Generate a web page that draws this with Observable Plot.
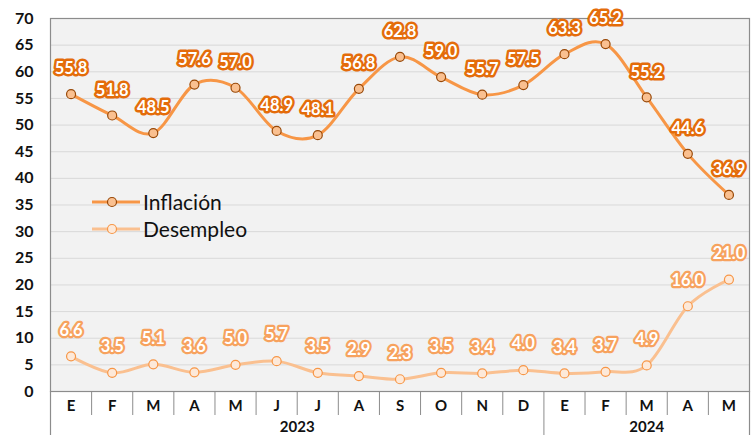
<!DOCTYPE html>
<html>
<head>
<meta charset="utf-8">
<script src="https://cdn.jsdelivr.net/npm/d3@7"></script>
<script src="https://cdn.jsdelivr.net/npm/@observablehq/plot@0.6"></script>
<style>
  html, body { margin: 0; padding: 0; background: #fff; }
  #wrap { position: relative; width: 756px; height: 435px; font-family: Lato, "Open Sans", sans-serif; }
  #legend { position: absolute; left: 92px; top: 188px; font-size: 21px; color: #111; }
  #legend div { display: flex; align-items: center; height: 27px; }
  #legend svg { margin-right: 3px; }
</style>
</head>
<body>
<div id="wrap">
  <div id="chart"></div>
  <div id="legend"></div>
</div>
<script>
const months = ["E","F","M","A","M","J","J","A","S","O","N","D","E","F","M","A","M"];
const years = ["2023","2023","2023","2023","2023","2023","2023","2023","2023","2023","2023","2023","2024","2024","2024","2024","2024"];
const inflacion = [55.8, 51.8, 48.5, 57.6, 57.0, 48.9, 48.1, 56.8, 62.8, 59.0, 55.7, 57.5, 63.3, 65.2, 55.2, 44.6, 36.9];
const desempleo = [6.6, 3.5, 5.1, 3.6, 5.0, 5.7, 3.5, 2.9, 2.3, 3.5, 3.4, 4.0, 3.4, 3.7, 4.9, 16.0, 21.0];
const yTicks = [0,5,10,15,20,25,30,35,40,45,50,55,60,65,70];

const colInf = "#F79646", colInfFill = "#FAC090", colInfStroke = "#984807", colInfHalo = "#E46C0A";
const colDes = "#FAC090", colDesFill = "#FDE9D9", colDesStroke = "#F79646", colDesHalo = "#F7A25E";

const rows = months.map((m, i) => ({i, m, year: years[i], inf: inflacion[i], des: desempleo[i]}));
const seps = months.slice(0, -1).map((m, i) => ({x: i + 0.5, yearBreak: years[i] !== years[i + 1]}));
const yearGroups = d3.groups(rows, d => d.year).map(([y, rs]) => ({year: y, x: d3.mean(rs, r => r.i)}));
const edges = [-0.5, months.length - 0.5];

const chart = Plot.plot({
  width: 756,
  height: 435,
  marginLeft: 50,
  marginRight: 7,
  marginTop: 18,
  marginBottom: 44,
  style: {fontFamily: "Lato, 'Open Sans', sans-serif", background: "transparent", overflow: "visible"},
  x: {domain: [-0.5, months.length - 0.5], axis: null},
  y: {domain: [0, 70], ticks: yTicks, axis: null},
  marks: [
    Plot.frame({fill: "#F2F2F2", stroke: null}),
    Plot.ruleY(yTicks.filter(t => t > 0), {stroke: "#D9D9D9", strokeWidth: 1}),
    Plot.frame({stroke: "#8C8C8C", strokeWidth: 1.2}),
    Plot.axisY({ticks: yTicks, tickSize: 0, tickPadding: 17, fontSize: 16, fontWeight: "bold", fill: "#111", label: null}),
    Plot.ruleX(seps.filter(d => !d.yearBreak), {x: "x", y1: 0, y2: 0, insetBottom: -24, stroke: "#8C8C8C", strokeWidth: 1}),
    Plot.ruleX(seps.filter(d => d.yearBreak), {x: "x", y1: 0, y2: 0, insetBottom: -44, stroke: "#8C8C8C", strokeWidth: 1}),
    Plot.ruleX(edges, {y1: 0, y2: 0, insetBottom: -44, stroke: "#8C8C8C", strokeWidth: 1.2}),
    Plot.text(rows, {x: "i", y: 0, text: "m", dy: 15, fontSize: 15, fontWeight: "bold", fill: "#111"}),
    Plot.text(yearGroups, {x: "x", y: 0, text: "year", dy: 36, fontSize: 15, fontWeight: "bold", fill: "#111"}),
    Plot.line(rows, {x: "i", y: "des", curve: "cardinal", stroke: colDes, strokeWidth: 3}),
    Plot.dot(rows, {x: "i", y: "des", r: 4.5, fill: colDesFill, stroke: colDesStroke, strokeWidth: 1.2}),
    Plot.text(rows, {x: "i", y: "des", text: d => d.des.toFixed(1), dy: -26, fontSize: 16.5, fontWeight: "bold", fill: "white", stroke: colDesHalo, strokeWidth: 4.5, strokeLinejoin: "round"}),
    Plot.line(rows, {x: "i", y: "inf", curve: "cardinal", stroke: colInf, strokeWidth: 3}),
    Plot.dot(rows, {x: "i", y: "inf", r: 4.5, fill: colInfFill, stroke: colInfStroke, strokeWidth: 1.2}),
    Plot.text(rows, {x: "i", y: "inf", text: d => d.inf.toFixed(1), dy: -25, fontSize: 16.5, fontWeight: "bold", fill: "white", stroke: colInfHalo, strokeWidth: 5, strokeLinejoin: "round"})
  ]
});
document.getElementById("chart").appendChild(chart);

const legendItems = [
  {name: "Inflación", line: colInf, fill: colInfFill, stroke: colInfStroke},
  {name: "Desempleo", line: colDes, fill: colDesFill, stroke: colDesStroke}
];
const leg = document.getElementById("legend");
for (const it of legendItems) {
  const row = document.createElement("div");
  row.innerHTML = `<svg width="48" height="14"><line x1="0" x2="48" y1="7" y2="7" stroke="${it.line}" stroke-width="3"/><circle cx="20" cy="7" r="4.5" fill="${it.fill}" stroke="${it.stroke}" stroke-width="1.2"/></svg><span>${it.name}</span>`;
  leg.appendChild(row);
}
</script>
</body>
</html>
